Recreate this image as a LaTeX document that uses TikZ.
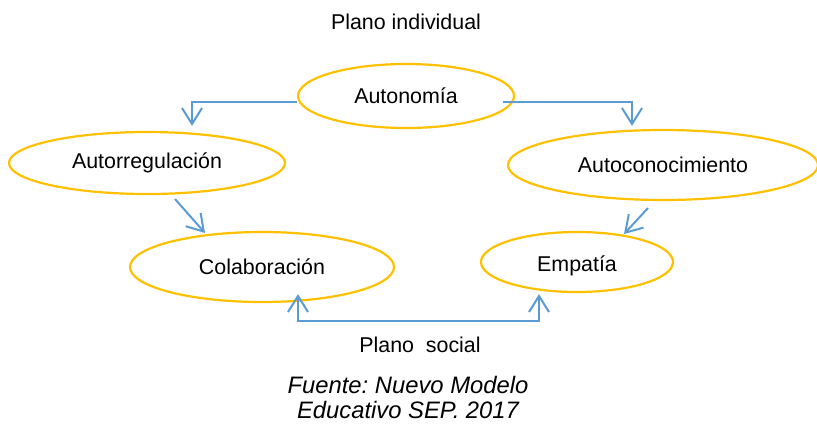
\documentclass[tikz,border=0pt]{standalone}
\usepackage{fontspec}
\setmainfont{Liberation Sans}
\usepackage{tikz}
\usetikzlibrary{arrows.meta,shapes,positioning,calc}
\definecolor{ringgold}{HTML}{FFC000}
\definecolor{linkblue}{HTML}{5B9BD5}
\tikzstyle{ring} = [ellipse, draw=ringgold, line width=1.1pt, inner sep=0pt, font=\fontsize{10.7}{13}\selectfont]
\tikzstyle{link} = [draw=linkblue, line width=1pt, -{Straight Barb[length=8pt,width=10pt]}]
\tikzstyle{plane} = [font=\fontsize{10.7}{13}\selectfont]
\frenchspacing

\begin{document}
\begin{tikzpicture}[x=0.5pt, y=-0.5pt]
        \useasboundingbox (0,0) rectangle (817,424);

        \node[ring, minimum width=108pt, minimum height=32pt] (auto) at (406,96) {Autonom\'ia};
        \node[ring, minimum width=138pt, minimum height=31pt] (autorreg) at (147,163) {Autorregulaci\'on};
        \node[ring, minimum width=155pt, minimum height=35pt] (autocon) at (663,165) {Autoconocimiento};
        \node[ring, minimum width=132pt, minimum height=35pt] (colab) at (262,267) {Colaboraci\'on};
        \node[ring, minimum width=96pt, minimum height=30pt, text height=12pt] (empat) at (577,262) {Empat\'ia};

        \node[plane] (indiv) at (406,22) {Plano individual};
        \node[plane] (social) at (420,345) {Plano\ \ social};
        \node[font=\fontsize{11.9}{12.5}\selectfont\itshape, align=center] (fuente) at (408,397) {Fuente: Nuevo Modelo\\Educativo SEP. 2017};

        \draw[link] ([shift={(0,6)}]auto.west) -| ([shift={(45,-5)}]autorreg.north);
        \draw[link] ([shift={(-12,6)}]auto.east) -| ([shift={(-31,-3)}]autocon.north);
        \draw[link] ([shift={(28,36)}]autorreg.center) -- ([shift={(-57,-34)}]colab.center);
        \draw[link] ([shift={(-15,43)}]autocon.center) -- ([shift={(47,-28)}]empat.center);
        \draw[link, {Straight Barb[length=8pt,width=10pt]}-{Straight Barb[length=8pt,width=10pt]}]
            ([shift={(36,-9)}]colab.south) -- ++(0,27) -| ([shift={(-38,1)}]empat.south);
    \end{tikzpicture}
\end{document}
